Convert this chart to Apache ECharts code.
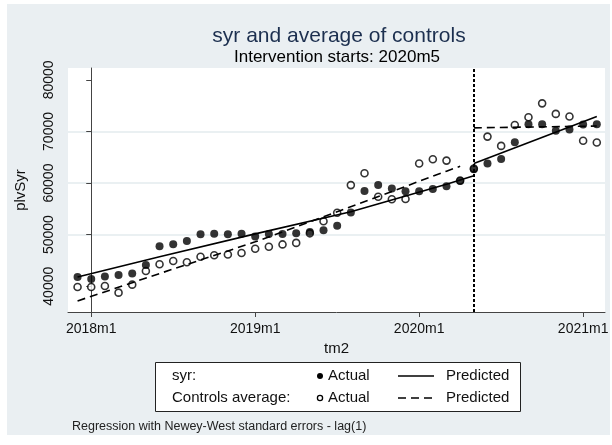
<!DOCTYPE html>
<html>
<head>
<meta charset="utf-8">
<script src="https://cdn.jsdelivr.net/npm/echarts@6/dist/echarts.min.js"></script>
<style>
  html, body { margin: 0; padding: 0; background: #ffffff; }
  #chart { width: 612px; height: 445px; }
</style>
</head>
<body>
<div id="chart"></div>
<script>
// Months counted from 2018m1 (= 0)
const months = [-1, 0, 1, 2, 3, 4, 5, 6, 7, 8, 9, 10, 11, 12, 13, 14, 15, 16, 17, 18, 19,
  20, 21, 22, 23, 24, 25, 26, 27, 28, 29, 30, 31, 32, 33, 34, 35, 36, 37];

// syr: actual monthly values
const syrActual = [41800, 41400, 41900, 42150, 42450, 44100, 47750, 48150, 48750, 50050,
  50150, 50050, 50150, 49650, 50100, 50100, 50250, 50500, 50850, 51700,
  54300, 58450, 59600, 58950, 58400, 58400, 58850, 59400, 60400, 62650,
  63800, 64650, 67900, 71400, 71400, 70150, 70400, 71350, 71400];

// Controls average: actual monthly values
const ctrlActual = [39850, 39850, 40050, 38750, 40300, 42950, 44250, 44900, 44650, 45700,
  46000, 46150, 46450, 47250, 47650, 48100, 48400, 50250, 52600, 54250,
  59600, 61900, 57350, 56850, 56900, 63800, 64600, 64350, 60500, 62800,
  69000, 67200, 71250, 72750, 75450, 73400, 72900, 68200, 67850];

// Predicted (fitted) values, pre- and post-intervention
const syrPredPreMonths = [-1, 5, 12, 19, 26, 28];
const syrPredPre = [41800, 45700, 50150, 54450, 59750, 61400];
const syrPredPostMonths = [28, 37];
const syrPredPost = [63800, 72900];

const ctrlPredPreMonths = [-1, 5, 12, 17, 26, 27];
const ctrlPredPre = [37150, 42450, 48600, 53450, 62300, 63250];
const ctrlPredPostMonths = [28, 37];
const ctrlPredPost = [70700, 71050];

// Intervention period (2020m5)
const interventionMonth = 28;

// Axis ticks
const xTickMonths = [0, 12, 24, 36];
const xTickLabels = ['2018m1', '2019m1', '2020m1', '2021m1'];
const yTickValues = [40000, 50000, 60000, 70000, 80000];
const yTickLabels = ['40000', '50000', '60000', '70000', '80000'];

const FONT = '"Liberation Sans", Arial, Helvetica, sans-serif';
const pairs = (xs, ys) => xs.map((x, i) => [x, ys[i]]);

const chart = echarts.init(document.getElementById('chart'), null, { renderer: 'canvas' });

const txt = (text, x, y, size, color, align) => ({
  type: 'text', z: 100,
  style: {
    text: text, x: x, y: y, fill: color || '#000',
    font: size + 'px ' + FONT,
    textAlign: align || 'left', align: align || 'left',
    textVerticalAlign: 'middle', verticalAlign: 'middle'
  }
});

const option = {
  animation: false,
  backgroundColor: '#eaeff2',
  textStyle: { fontFamily: FONT },
  grid: {
    left: 68, right: 7, top: 68, bottom: 133,
    show: true, backgroundColor: '#ffffff', borderWidth: 0
  },
  xAxis: {
    type: 'value', min: -1.7, max: 37.6,
    name: 'tm2', nameLocation: 'middle', nameGap: 26,
    nameTextStyle: { fontSize: 15, color: '#111', fontFamily: FONT },
    axisLine: { show: true, lineStyle: { color: '#444', width: 1 } },
    axisTick: { show: true, length: 5, customValues: xTickMonths, lineStyle: { color: '#444' } },
    axisLabel: {
      customValues: xTickMonths, margin: 10, fontSize: 14, color: '#111', fontFamily: FONT,
      formatter: (v) => xTickLabels[xTickMonths.indexOf(v)] || ''
    },
    splitLine: { show: false }
  },
  yAxis: {
    type: 'value', min: 35000, max: 82300,
    name: 'plvSyr', nameLocation: 'middle', nameGap: 40, nameRotate: 90,
    nameTextStyle: { fontSize: 15, color: '#111', fontFamily: FONT },
    axisLine: { show: true, lineStyle: { color: '#444', width: 1 } },
    axisTick: { show: true, length: 5, customValues: yTickValues, lineStyle: { color: '#444' } },
    axisLabel: {
      customValues: yTickValues, rotate: 90, margin: 12, fontSize: 14, color: '#111', fontFamily: FONT,
      formatter: (v) => yTickLabels[yTickValues.indexOf(v)] || ''
    },
    splitLine: { show: true, showMinLine: false, showMaxLine: false, lineStyle: { color: '#e3ebee', width: 1.5 } }
  },
  series: [
    {
      name: 'syr predicted (pre)', type: 'line', data: pairs(syrPredPreMonths, syrPredPre),
      showSymbol: false, symbol: 'none', lineStyle: { color: '#000', width: 1.6 },
      markLine: {
        silent: true, symbol: 'none', label: { show: false },
        lineStyle: { color: '#000', width: 2, type: [3, 2] },
        data: [{ xAxis: interventionMonth }]
      }
    },
    {
      name: 'syr predicted (post)', type: 'line', data: pairs(syrPredPostMonths, syrPredPost),
      showSymbol: false, symbol: 'none', lineStyle: { color: '#000', width: 1.6 }
    },
    {
      name: 'controls predicted (pre)', type: 'line', data: pairs(ctrlPredPreMonths, ctrlPredPre),
      showSymbol: false, symbol: 'none', lineStyle: { color: '#000', width: 1.6, type: [8, 5] }
    },
    {
      name: 'controls predicted (post)', type: 'line', data: pairs(ctrlPredPostMonths, ctrlPredPost),
      showSymbol: false, symbol: 'none', lineStyle: { color: '#000', width: 1.6, type: [8, 5] }
    },
    {
      name: 'controls actual', type: 'scatter', data: pairs(months, ctrlActual),
      symbol: 'circle', symbolSize: 7,
      itemStyle: { color: '#ffffff', borderColor: '#000', borderWidth: 1.6 }
    },
    {
      name: 'syr actual', type: 'scatter', data: pairs(months, syrActual),
      symbol: 'circle', symbolSize: 8,
      itemStyle: { color: '#000' }
    }
  ],
  graphic: [
    // white page margins around the grey graph region
    { type: 'rect', z: 100, shape: { x: 0, y: 0, width: 612, height: 4 }, style: { fill: '#fff' } },
    { type: 'rect', z: 100, shape: { x: 0, y: 435, width: 612, height: 10 }, style: { fill: '#fff' } },
    { type: 'rect', z: 100, shape: { x: 0, y: 0, width: 7, height: 445 }, style: { fill: '#fff' } },
    { type: 'rect', z: 100, shape: { x: 610, y: 0, width: 2, height: 445 }, style: { fill: '#fff' } },
    // titles
    txt('syr and average of controls', 339, 36, 21, '#1c2f4f', 'center'),
    txt('Intervention starts: 2020m5', 337, 57, 17, '#000', 'center'),
    // legend box
    { type: 'rect', z: 100, shape: { x: 155.5, y: 362.5, width: 365, height: 49 },
      style: { fill: '#fff', stroke: '#222', lineWidth: 1 } },
    txt('syr:', 172, 376, 15, '#111'),
    txt('Controls average:', 172, 398, 15, '#111'),
    { type: 'circle', z: 101, shape: { cx: 320, cy: 376, r: 3 }, style: { fill: '#000' } },
    { type: 'circle', z: 101, shape: { cx: 320, cy: 398, r: 2.6 }, style: { fill: '#fff', stroke: '#000', lineWidth: 1.3 } },
    txt('Actual', 328, 376, 15, '#111'),
    txt('Actual', 328, 398, 15, '#111'),
    { type: 'line', z: 101, shape: { x1: 398, y1: 376, x2: 434, y2: 376 }, style: { stroke: '#000', lineWidth: 1.6 } },
    { type: 'line', z: 101, shape: { x1: 398, y1: 398, x2: 434, y2: 398 }, style: { stroke: '#000', lineWidth: 1.6, lineDash: [8, 5] } },
    txt('Predicted', 446, 376, 15, '#111'),
    txt('Predicted', 446, 398, 15, '#111'),
    // note
    txt('Regression with Newey-West standard errors - lag(1)', 72, 427, 12.5, '#222')
  ]
};

chart.setOption(option);
</script>
</body>
</html>
